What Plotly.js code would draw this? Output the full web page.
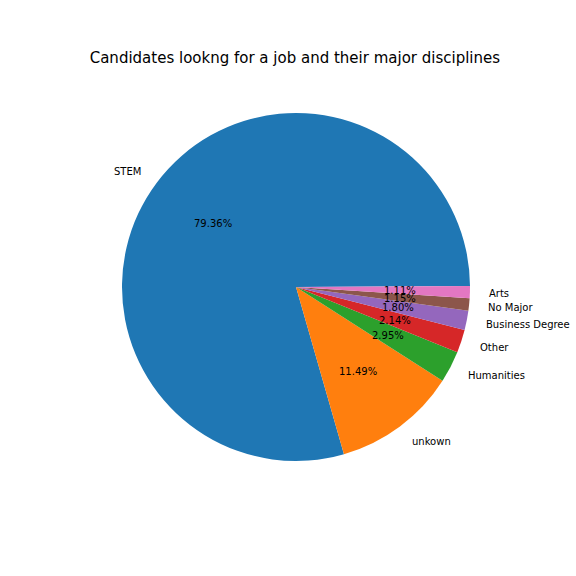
<!DOCTYPE html>
<html>
<head>
<meta charset="utf-8">
<script src="https://cdn.plot.ly/plotly-3.0.1.min.js"></script>
</head>
<body style="margin:0">
<div id="chart" style="width:576px;height:576px"></div>
<script>
var labels = ["STEM", "unkown", "Humanities", "Other", "Business Degree", "No Major", "Arts"]
var values = [79.36, 11.49, 2.95, 2.14, 1.80, 1.15, 1.11]
var colors = ["#1f77b4", "#ff7f0e", "#2ca02c", "#d62728", "#9467bd", "#8c564b", "#e377c2"]

// pie placement in pixels (matplotlib-like)
var W = 576, H = 576, cx = 296, cy = 289, R = 174
var total = values.reduce((a, b) => a + b, 0)

var annotations = []
var start = 0
for (i = 0; i < values.length; i++) {
    var mid = (start + values[i] / 2) / total * 2 * Math.PI
    start += values[i]
    var c = Math.cos(mid), s = Math.sin(mid)
    annotations.push({
        xref: 'paper', yref: 'paper',
        x: (cx + 0.6 * R * c) / W, y: (cy + 0.6 * R * s) / H,
        text: (values[i] / total * 100).toFixed(2) + "%",
        showarrow: false, xanchor: 'center', yanchor: 'middle',
        font: {size: 10, color: 'black'}
    })
    annotations.push({
        xref: 'paper', yref: 'paper',
        x: (cx + 1.1 * R * c) / W, y: (cy + 1.1 * R * s) / H,
        text: labels[i],
        showarrow: false, xanchor: c >= 0 ? 'left' : 'right', yanchor: 'middle',
        font: {size: 10, color: 'black'}
    })
}

var data = [{
    type: 'pie',
    labels: labels,
    values: values,
    sort: false,
    direction: 'counterclockwise',
    rotation: 164,
    textinfo: 'none',
    hoverinfo: 'label+percent',
    marker: {colors: colors, line: {width: 0}},
    domain: {x: [(cx - R) / W, (cx + R) / W], y: [(cy - R) / H, (cy + R) / H]}
}]

var layout = {
    width: W, height: H,
    margin: {t: 0, l: 0, r: 0, b: 0},
    showlegend: false,
    font: {family: 'DejaVu Sans'},
    title: {text: 'Candidates lookng for a job and their major disciplines',
            font: {size: 15, color: 'black'}, x: 0.512, xanchor: 'center', y: 1 - 58 / H, yanchor: 'middle'},
    annotations: annotations,
    paper_bgcolor: 'white'
}

Plotly.newPlot('chart', data, layout, {displayModeBar: false})
</script>
</body>
</html>
